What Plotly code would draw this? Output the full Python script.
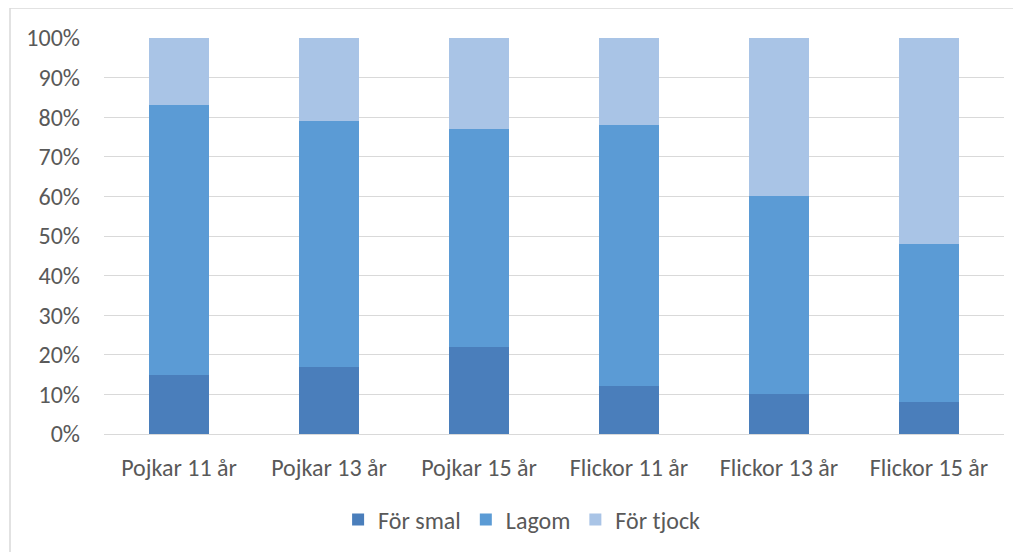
import plotly.graph_objects as go

categories = ["Pojkar 11 år", "Pojkar 13 år", "Pojkar 15 år",
              "Flickor 11 år", "Flickor 13 år", "Flickor 15 år"]
for_smal = [15, 17, 22, 12, 10, 8]
lagom = [68, 62, 55, 66, 50, 40]
for_tjock = [17, 21, 23, 22, 40, 52]

series = [("För smal", for_smal, "#4A7EBB"),
          ("Lagom", lagom, "#5B9BD5"),
          ("För tjock", for_tjock, "#A9C4E6")]

fig = go.Figure()
for name, vals, color in series:
    fig.add_trace(go.Bar(x=categories, y=vals, name=name,
                         marker=dict(color=color, line=dict(width=0))))

font_family = "Carlito, Lato, sans-serif"
fs = 24
fig.update_layout(
    barmode="stack",
    barnorm="percent",
    bargap=0.6,
    width=1021, height=552,
    margin=dict(l=96, r=25, t=30, b=126, autoexpand=False),
    paper_bgcolor="white", plot_bgcolor="white",
    font=dict(family=font_family, color="#595959", size=fs),
    showlegend=True,
    legend=dict(orientation="h", x=0.464, xanchor="center", y=-0.217, yanchor="middle",
                font=dict(size=fs, color="#595959"), itemwidth=30,
                traceorder="normal", bgcolor="rgba(0,0,0,0)"),
    xaxis=dict(showgrid=False, showline=True, linecolor="#D9D9D9", linewidth=1,
               ticks="", tickfont=dict(size=fs, color="#595959"), ticklabelstandoff=12),
    yaxis=dict(range=[0, 100], dtick=10, ticksuffix="%", showgrid=True,
               gridcolor="#D9D9D9", gridwidth=1, zeroline=False, showline=False,
               ticks="", tickfont=dict(size=fs, color="#595959"), ticklabelstandoff=23),
    shapes=[dict(type="rect", xref="paper", yref="paper",
                 x0=-94 / 900, x1=1.1, y0=-0.5, y1=1 + 30 / 396,
                 line=dict(color="#D9D9D9", width=1.5), layer="below")],
)

fig.write_html("out.html")
